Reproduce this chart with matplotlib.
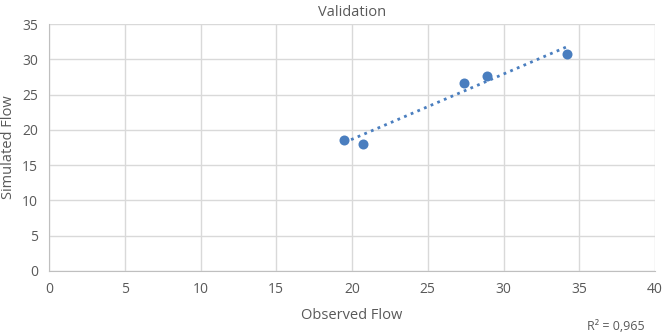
import numpy as np
import matplotlib
matplotlib.use('Agg')
import matplotlib.pyplot as plt

# values
observed = [19.5, 20.7, 27.4, 28.9, 34.2]
simulated = [18.6, 18.0, 26.7, 27.6, 30.8]
r2_text = 'R² = 0,965'

plt.rcParams['font.family'] = ['Open Sans', 'DejaVu Sans']
txt = '#595959'
grid_c = '#d9d9d9'
blue = '#4a7ebf'

fig = plt.figure(figsize=(6.63, 3.34), dpi=100)
ax = fig.add_axes([49 / 663, 1 - 271 / 334, (655 - 49) / 663, (271 - 24) / 334])

ax.scatter(observed, simulated, s=52, color=blue, zorder=3, linewidths=0)

# linear trendline
k, b = np.polyfit(observed, simulated, 1)
xs = np.array([min(observed), max(observed)])
ax.plot(xs, k * xs + b, linestyle=(0, (1, 1.6)), color=blue, lw=2, zorder=2)

ax.set_xlim(0, 40)
ax.set_ylim(0, 35)
ax.set_xticks(range(0, 41, 5))
ax.set_yticks(range(0, 36, 5))
ax.grid(True, color=grid_c, lw=1)
ax.set_axisbelow(True)
for s in ['top', 'right']:
    ax.spines[s].set_visible(False)
for s in ['left', 'bottom']:
    ax.spines[s].set_color('#bfbfbf')
ax.tick_params(length=0, colors=txt, labelsize=10, pad=8)

ax.set_title('Validation', color=txt, fontsize=10.5, pad=6)
ax.set_xlabel('Observed Flow', color=txt, fontsize=10.5, labelpad=8)
ax.set_ylabel('Simulated Flow', color=txt, fontsize=10.5, labelpad=4)
fig.text(616 / 663, 1 - 326 / 334, r2_text, color=txt, fontsize=9, ha='center', va='center')

fig.savefig('out.png', dpi=100)
